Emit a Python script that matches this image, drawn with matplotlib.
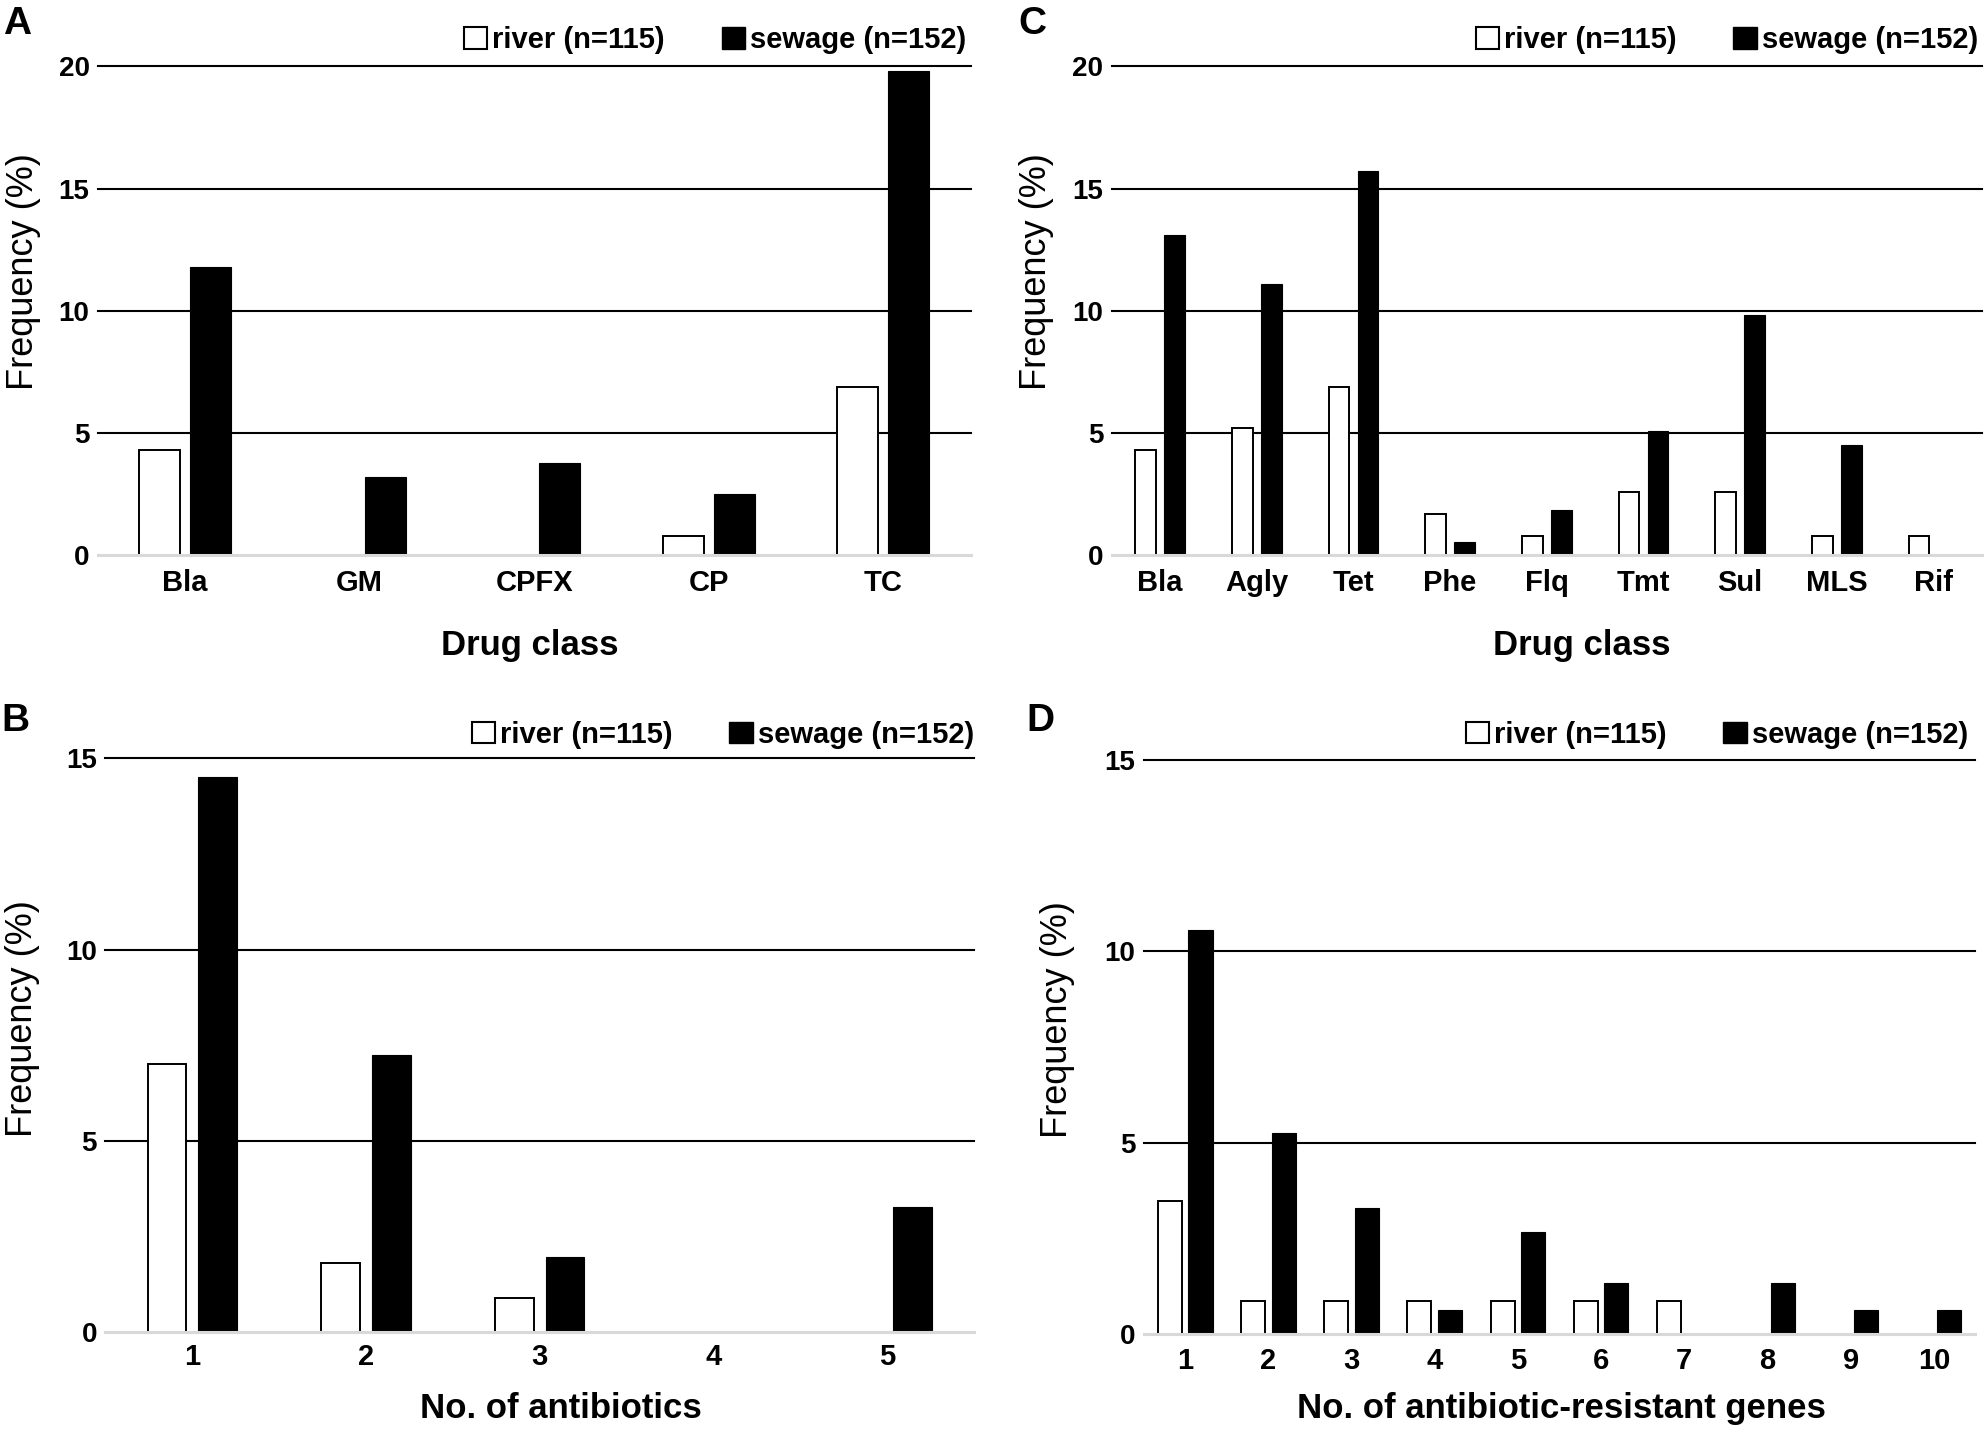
import numpy as np
import matplotlib
matplotlib.use('Agg')
import matplotlib.pyplot as plt
from matplotlib.patches import Patch

plt.rcParams['font.family'] = ['Liberation Sans', 'DejaVu Sans']

# panel A - phenotypic resistance by drug class
cats_A = ['Bla', 'GM', 'CPFX', 'CP', 'TC']
river_A = [4.3, 0, 0, 0.8, 6.9]
sewage_A = [11.8, 3.2, 3.8, 2.5, 19.8]

# panel B - number of antibiotics
cats_B = ['1', '2', '3', '4', '5']
river_B = [7.0, 1.8, 0.9, 0, 0]
sewage_B = [14.5, 7.25, 1.97, 0, 3.27]

# panel C - resistance genes by drug class
cats_C = ['Bla', 'Agly', 'Tet', 'Phe', 'Flq', 'Tmt', 'Sul', 'MLS', 'Rif']
river_C = [4.3, 5.2, 6.9, 1.7, 0.8, 2.6, 2.6, 0.8, 0.8]
sewage_C = [13.1, 11.1, 15.7, 0.55, 1.85, 5.1, 9.85, 4.5, 0]

# panel D - number of resistance genes
cats_D = ['1', '2', '3', '4', '5', '6', '7', '8', '9', '10']
river_D = [3.48, 0.87, 0.87, 0.87, 0.87, 0.87, 0.87, 0, 0, 0]
sewage_D = [10.55, 5.27, 3.31, 0.63, 2.66, 1.33, 0, 1.33, 0.63, 0.63]

legend_labels = ['river (n=115)', 'sewage (n=152)']

fig = plt.figure(figsize=(19.86, 14.32), dpi=100)


def panel(rect, cats, river, sewage, ymax, yticks, width, off, xlabel, xlab_pos,
          ylab_pos, leg_pos, xpad, letter, letter_pos):
    ax = fig.add_axes(rect)
    x = np.arange(len(cats))
    for i in range(len(cats)):
        if river[i] > 0:
            ax.bar(x[i] - off, river[i], width, color='white', edgecolor='black',
                   lw=1.4, zorder=2)
        if sewage[i] > 0:
            ax.bar(x[i] + off, sewage[i], width, color='black', edgecolor='black',
                   lw=0.8, zorder=2)
    for t in yticks[1:]:
        ax.axhline(t, color='black', lw=1.5, zorder=1, clip_on=False)
    ax.axhline(0, color='#d9d9d9', lw=2.2, zorder=3, clip_on=False)
    ax.set_xlim(-0.5, len(cats) - 0.5)
    ax.set_ylim(0, ymax)
    ax.set_yticks(yticks)
    ax.set_yticklabels([str(t) for t in yticks], fontsize=20, fontweight='bold')
    ax.set_xticks(x)
    ax.set_xticklabels(cats, fontsize=21, fontweight='bold')
    ax.tick_params(axis='y', length=0, pad=6)
    ax.tick_params(axis='x', length=0, pad=xpad)
    for s in ax.spines.values():
        s.set_visible(False)
    ax.set_xlabel(xlabel, fontsize=25, fontweight='bold', va='center')
    ax.xaxis.set_label_coords(xlab_pos[0], xlab_pos[1])
    ax.set_ylabel('Frequency (%)', fontsize=26, va='center')
    ax.yaxis.set_label_coords(ylab_pos[0], ylab_pos[1])
    handles = [Patch(facecolor='white', edgecolor='black', lw=1.5),
               Patch(facecolor='black', edgecolor='black')]
    ax.legend(handles, legend_labels, ncol=2, loc='center right',
              bbox_to_anchor=leg_pos, frameon=False, borderpad=0, borderaxespad=0,
              handlelength=0.8, handleheight=0.77, handletextpad=0.17,
              columnspacing=1.95, prop={'size': 21, 'weight': 'bold'})
    fig.text(letter_pos[0], letter_pos[1], letter, fontsize=28, fontweight='bold',
             ha='center', va='center')
    return ax


panel([0.0493, 0.6121, 0.4394, 0.3416], cats_A, river_A, sewage_A, 20, [0, 5, 10, 15, 20],
      0.235, 0.145, 'Drug class', (0.495, -0.1836), (-0.0855, 0.5805), (0.995, 1.053), 10,
      'A', (0.0086, 0.9832))
panel([0.5598, 0.6121, 0.4381, 0.3416], cats_C, river_C, sewage_C, 20, [0, 5, 10, 15, 20],
      0.215, 0.15, 'Drug class', (0.5405, -0.1836), (-0.0868, 0.5805), (0.9955, 1.053), 10,
      'C', (0.52, 0.9832))
panel([0.0531, 0.0698, 0.4373, 0.4007], cats_B, river_B, sewage_B, 15, [0, 5, 10, 15],
      0.222, 0.146, 'No. of antibiotics', (0.524, -0.1333), (-0.0955, 0.547), (1.0, 1.041), 8,
      'B', (0.0076, 0.4967))
panel([0.5758, 0.0682, 0.4189, 0.4011], cats_D, river_D, sewage_D, 15, [0, 5, 10, 15],
      0.29, 0.184, 'No. of antibiotic-resistant genes', (0.502, -0.129), (-0.104, 0.548),
      (0.991, 1.044), 9, 'D', (0.524, 0.4967))

fig.savefig('out.png', dpi=100)
